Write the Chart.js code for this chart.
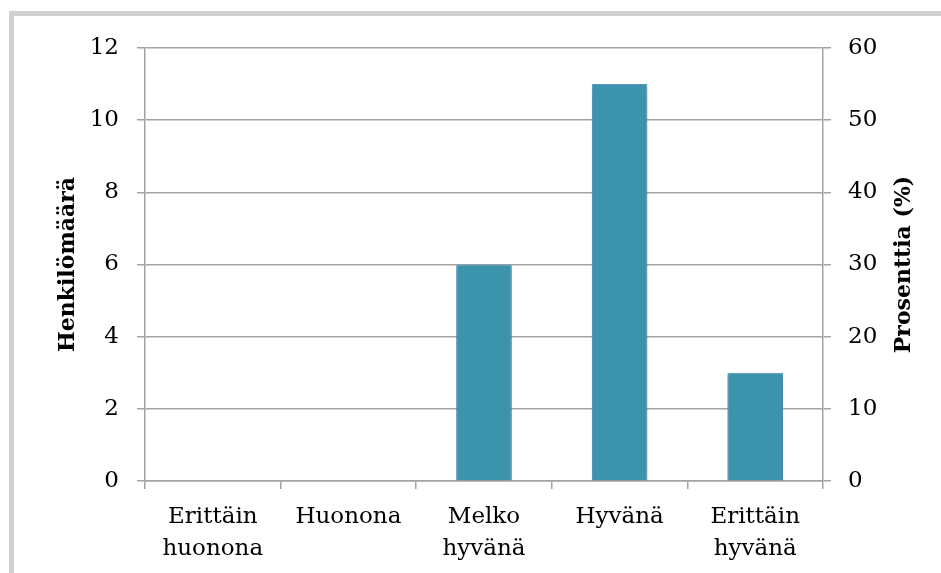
<!DOCTYPE html>
<html>
<head>
<meta charset="utf-8">
<script src="https://cdn.jsdelivr.net/npm/chart.js@4.4.1/dist/chart.umd.min.js"></script>
<style>
  html, body { margin: 0; padding: 0; background: #fff; }
  #wrap { position: relative; width: 941px; height: 573px; overflow: hidden; }
  #frame { position: absolute; left: 9px; top: 11px; width: 960px; height: 600px;
           border-left: 5px solid #d0d0d0; border-top: 5px solid #d0d0d0; box-sizing: border-box; }
  canvas { position: absolute; left: 0; top: 0; }
</style>
</head>
<body>
<div id="wrap">
  <div id="frame"></div>
  <canvas id="c" width="941" height="573"></canvas>
</div>
<script>
const categories = [["Erittäin", "huonona"], "Huonona", ["Melko", "hyvänä"], "Hyvänä", ["Erittäin", "hyvänä"]];
const counts = [0, 0, 6, 11, 3];
const leftTitle = "Henkilömäärä";
const rightTitle = "Prosenttia (%)";

const FONT = "'DejaVu Serif', 'Liberation Serif', serif";
const gridColor = "#a3a3a3";

const titlePlugin = {
  id: 'axisTitles',
  afterDraw(chart) {
    const ctx = chart.ctx;
    const a = chart.chartArea;
    const cy = (a.top + a.bottom) / 2;
    ctx.save();
    ctx.fillStyle = '#000';
    ctx.font = "bold 22px " + FONT;
    ctx.textAlign = 'center';
    ctx.textBaseline = 'middle';
    ctx.translate(68, cy);
    ctx.rotate(-Math.PI / 2);
    ctx.fillText(leftTitle, 0, 0);
    ctx.restore();
    ctx.save();
    ctx.fillStyle = '#000';
    ctx.font = "bold 22px " + FONT;
    ctx.textAlign = 'center';
    ctx.textBaseline = 'middle';
    ctx.translate(904, cy);
    ctx.rotate(-Math.PI / 2);
    ctx.fillText(rightTitle, 0, 0);
    ctx.restore();
  }
};

const shadowPlugin = {
  id: 'barShadow',
  beforeDatasetsDraw(chart) {
    const ctx = chart.ctx;
    ctx.save();
    ctx.shadowColor = 'rgba(0,0,0,0.35)';
    ctx.shadowBlur = 4;
    ctx.shadowOffsetX = 0;
    ctx.shadowOffsetY = 2;
  },
  afterDatasetsDraw(chart) {
    chart.ctx.restore();
  }
};

new Chart(document.getElementById('c'), {
  type: 'bar',
  data: {
    labels: categories,
    datasets: [{
      data: counts,
      backgroundColor: '#3b94ab',
      borderColor: '#5c9ccb',
      borderWidth: 1,
      barPercentage: 0.41,
      categoryPercentage: 1.0,
      yAxisID: 'y'
    }]
  },
  options: {
    responsive: false,
    animation: false,
    devicePixelRatio: 1,
    layout: { padding: { top: 48, left: 0, right: 0, bottom: 0 } },
    plugins: { legend: { display: false }, tooltip: { enabled: false } },
    scales: {
      x: {
        offset: true,
        grid: { display: true, drawOnChartArea: false, drawTicks: true, tickLength: 8, color: gridColor, lineWidth: 1.5, offset: true },
        border: { display: true, color: gridColor, width: 1.5 },
        ticks: { color: '#000', font: { family: FONT, size: 23, lineHeight: 1.4 }, padding: 12, maxRotation: 0, autoSkip: false },
        afterFit(s) { s.height = 92; }
      },
      y: {
        position: 'left',
        min: 0, max: 12,
        ticks: { stepSize: 2, color: '#000', font: { family: FONT, size: 23 }, padding: 18 },
        grid: { color: gridColor, lineWidth: 1.5, tickLength: 8 },
        border: { display: true, color: gridColor, width: 1.5 },
        afterFit(s) { s.width = 145; }
      },
      y1: {
        position: 'right',
        min: 0, max: 60,
        ticks: { stepSize: 10, color: '#000', font: { family: FONT, size: 23 }, padding: 17 },
        grid: { drawOnChartArea: false, color: gridColor, lineWidth: 1.5, tickLength: 8 },
        border: { display: true, color: gridColor, width: 1.5 },
        afterFit(s) { s.width = 118; }
      }
    }
  },
  plugins: [titlePlugin, shadowPlugin]
});
</script>
</body>
</html>
